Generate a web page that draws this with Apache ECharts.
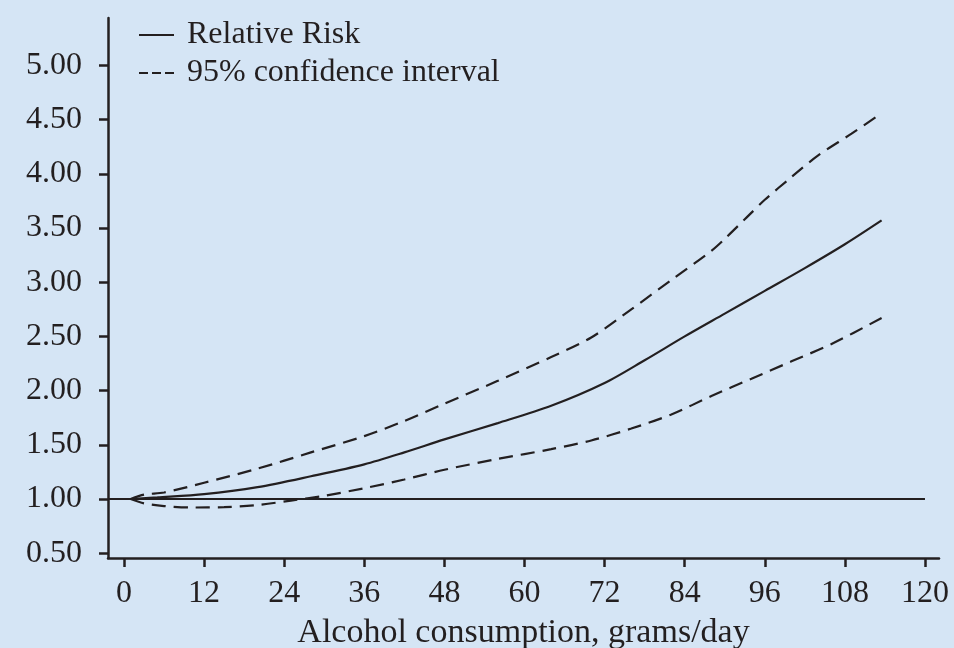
<!DOCTYPE html>
<html>
<head>
<meta charset="utf-8">
<script src="https://cdn.jsdelivr.net/npm/echarts@6/dist/echarts.min.js"></script>
<style>
html,body{margin:0;padding:0;background:#d5e5f5;}
#chart{width:954px;height:648px;}
</style>
</head>
<body>
<div id="chart"></div>
<script>
// Relative risk curve (grams/day, RR)
const rrX = [1, 5, 12, 20, 28, 36, 42, 48, 56, 64, 72, 78, 84, 90, 96, 102, 108, 113.5];
const rrY = [1.00, 1.015, 1.045, 1.11, 1.21, 1.32, 1.43, 1.55, 1.70, 1.86, 2.07, 2.28, 2.50, 2.71, 2.92, 3.13, 3.35, 3.57];
// Upper 95% CI
const upX = [1, 3, 6, 12, 20, 28, 36, 42, 48, 56, 64, 70, 76, 82, 88, 90, 93, 96, 100, 104, 109, 113.5];
const upY = [1.00, 1.04, 1.06, 1.15, 1.28, 1.43, 1.58, 1.72, 1.88, 2.09, 2.31, 2.49, 2.75, 3.02, 3.29, 3.40, 3.58, 3.76, 3.97, 4.17, 4.37, 4.56];
// Lower 95% CI
const loX = [1, 3, 6, 10, 15, 20, 25, 30, 36, 42, 48, 56, 64, 70, 76, 82, 88, 94, 100, 106, 113.5];
const loY = [1.00, 0.96, 0.935, 0.922, 0.925, 0.945, 0.985, 1.03, 1.10, 1.18, 1.27, 1.37, 1.46, 1.54, 1.65, 1.78, 1.95, 2.11, 2.27, 2.43, 2.67];
// Reference line RR = 1
const refX = [-2.4, 120];
const refY = [1, 1];
// Tick labels
const xTicks = [0, 12, 24, 36, 48, 60, 72, 84, 96, 108, 120];
const yTicks = [0.5, 1.0, 1.5, 2.0, 2.5, 3.0, 3.5, 4.0, 4.5, 5.0];

const zip = (xs, ys) => xs.map((x, i) => [x, ys[i]]);
const ink = '#231f20';
const font = '"Liberation Serif", "Times New Roman", serif';

const chart = echarts.init(document.getElementById('chart'));
chart.setOption({
  backgroundColor: '#d5e5f5',
  animation: false,
  grid: {left: 108, right: 15, top: 18, bottom: 90, outerBoundsMode: 'none', containLabel: false},
  legend: {
    data: [
      {name: 'Relative Risk'},
      {name: '95% confidence interval', lineStyle: {type: [9, 4]}}
    ],
    orient: 'vertical',
    left: 138, top: 19, padding: 0,
    itemWidth: 35, itemHeight: 20, itemGap: 6,
    itemStyle: {opacity: 0},
    textStyle: {fontFamily: font, fontSize: 32, color: ink, padding: [0, 0, 0, 8]},
    selectedMode: false
  },
  xAxis: {
    type: 'value', min: -2.4, max: 122.1,
    name: 'Alcohol consumption, grams/day',
    nameLocation: 'middle', nameGap: 58,
    nameTextStyle: {fontFamily: font, fontSize: 34, color: ink},
    axisLine: {onZero: false, lineStyle: {color: ink, width: 2.5}},
    axisTick: {customValues: xTicks, length: 9, lineStyle: {color: ink, width: 2.5}},
    axisLabel: {customValues: xTicks, margin: 20, fontFamily: font, fontSize: 32, color: ink},
    splitLine: {show: false}
  },
  yAxis: {
    type: 'value', min: 0.456, max: 5.437,
    axisLine: {show: true, onZero: false, lineStyle: {color: ink, width: 2.5}},
    axisTick: {show: true, customValues: yTicks, length: 9, lineStyle: {color: ink, width: 2.5}},
    axisLabel: {customValues: yTicks, margin: 26, fontFamily: font, fontSize: 32, color: ink,
      formatter: v => v.toFixed(2)},
    splitLine: {show: false}
  },
  series: [
    {name: 'ref', type: 'line', data: zip(refX, refY), symbol: 'none', silent: true,
      lineStyle: {color: ink, width: 2}},
    {name: 'Relative Risk', type: 'line', data: zip(rrX, rrY), symbol: 'none', smooth: 0.3,
      lineStyle: {color: ink, width: 2.2}, itemStyle: {color: ink}},
    {name: '95% confidence interval', type: 'line', data: zip(upX, upY), symbol: 'none', smooth: 0.3,
      lineStyle: {color: ink, width: 2.2, type: [14, 8]}, itemStyle: {color: ink}},
    {name: '95% confidence interval', type: 'line', data: zip(loX, loY), symbol: 'none', smooth: 0.3,
      lineStyle: {color: ink, width: 2.2, type: [14, 8]}, itemStyle: {color: ink}}
  ]
});
</script>
</body>
</html>
